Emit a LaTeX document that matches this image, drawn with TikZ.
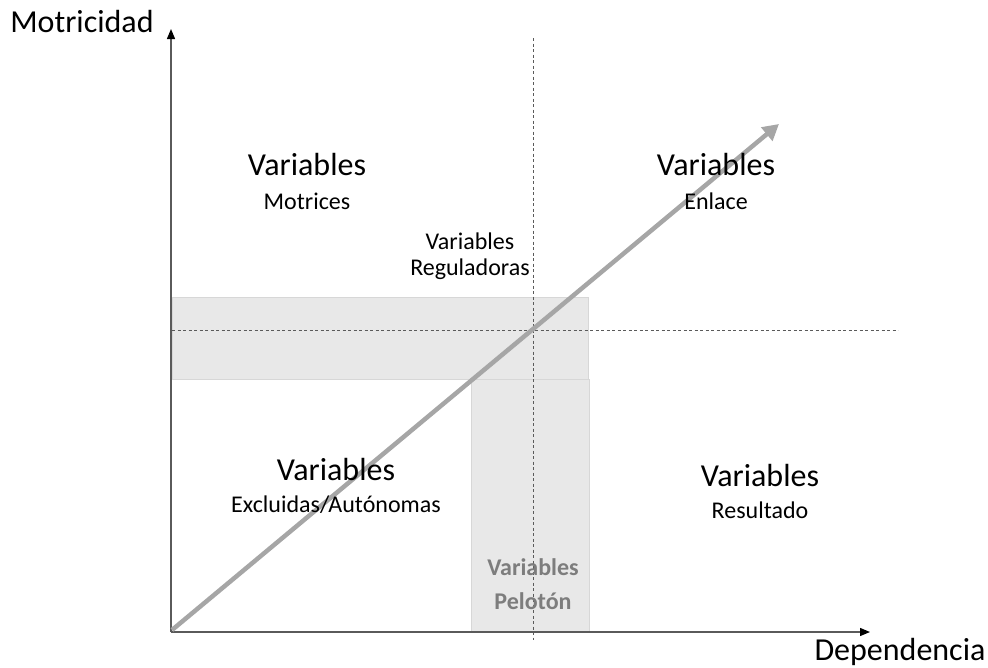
\documentclass[tikz,border=0pt]{standalone}
\usepackage{fontspec}
\setmainfont{Carlito}
\usetikzlibrary{arrows.meta}
\definecolor{bandfill}{RGB}{232,232,232}
\definecolor{bandline}{RGB}{215,215,215}
\definecolor{diag}{RGB}{166,166,166}
\definecolor{axisc}{RGB}{90,90,90}
\definecolor{peloton}{RGB}{125,125,125}
\tikzset{
  big/.style={font=\fontsize{32}{36}\selectfont, inner sep=0pt, anchor=center},
  small/.style={font=\fontsize{24}{28}\selectfont, inner sep=0pt, anchor=center},
  boldsmall/.style={font=\fontsize{24}{28}\selectfont\bfseries, text=peloton, inner sep=0pt, anchor=center},
  axisline/.style={draw=axisc, line width=1.3pt, arrows={-{Triangle[length=10pt,width=8pt,fill=black,color=black]}}},
  guide/.style={draw=axisc, line width=0.8pt, dash pattern=on 3pt off 2.5pt},
  band/.style={fill=bandfill, draw=bandline, line width=0.6pt},
}
\begin{document}
\begin{tikzpicture}[x=1pt,y=-1pt]
\useasboundingbox (0,0) rectangle (988,667);
% shaded bands
\path[band] (172,297) rectangle (588,379);
\path[band] (471,379) rectangle (589,632);
% guide coordinates
\coordinate (vtop) at (533,38);
\coordinate (vbot) at (533,640);
\coordinate (hleft) at (172,330);
\coordinate (hright) at (898,330);
\draw[guide] (vtop) -- (vbot);
\draw[guide] (hleft) -- (hright);
% axes
\coordinate (origin) at (171,632);
\coordinate (ytip) at (171,29);
\coordinate (xtip) at (870,632);
\coordinate (xstart) at (171,632);
\draw[axisline] (origin) -- (ytip);
\draw[axisline] (xstart) -- (xtip);
% diagonal
\coordinate (dstart) at (172,630);
\coordinate (dtip) at (779,124);
\draw[diag, line width=4.5pt, -{Triangle[length=16pt,width=17pt]}] (dstart) -- (dtip);
% axis labels
\node[big] (ylab) at (82,22) {Motricidad};
\node[big] (xlab) at (900,652) {Dependencia};
% quadrant labels
\node[big] (m1) at (307,165) {Variables};
\node[small] (m2) at (307,201) {Motrices};
\node[big] (e1) at (716,165) {Variables};
\node[small] (e2) at (716,201) {Enlace};
\node[small] (r1) at (470,241) {Variables};
\node[small] (r2) at (470,269) {Reguladoras};
\node[big] (x1) at (336,470) {Variables};
\node[small] (x2) at (336,505) {Excluidas/Autónomas};
\node[big] (s1) at (760,476) {Variables};
\node[small] (s2) at (760,510) {Resultado};
\node[boldsmall] (p1) at (533,567) {Variables};
\node[boldsmall] (p2) at (533,601) {Pelotón};
\end{tikzpicture}
\end{document}
